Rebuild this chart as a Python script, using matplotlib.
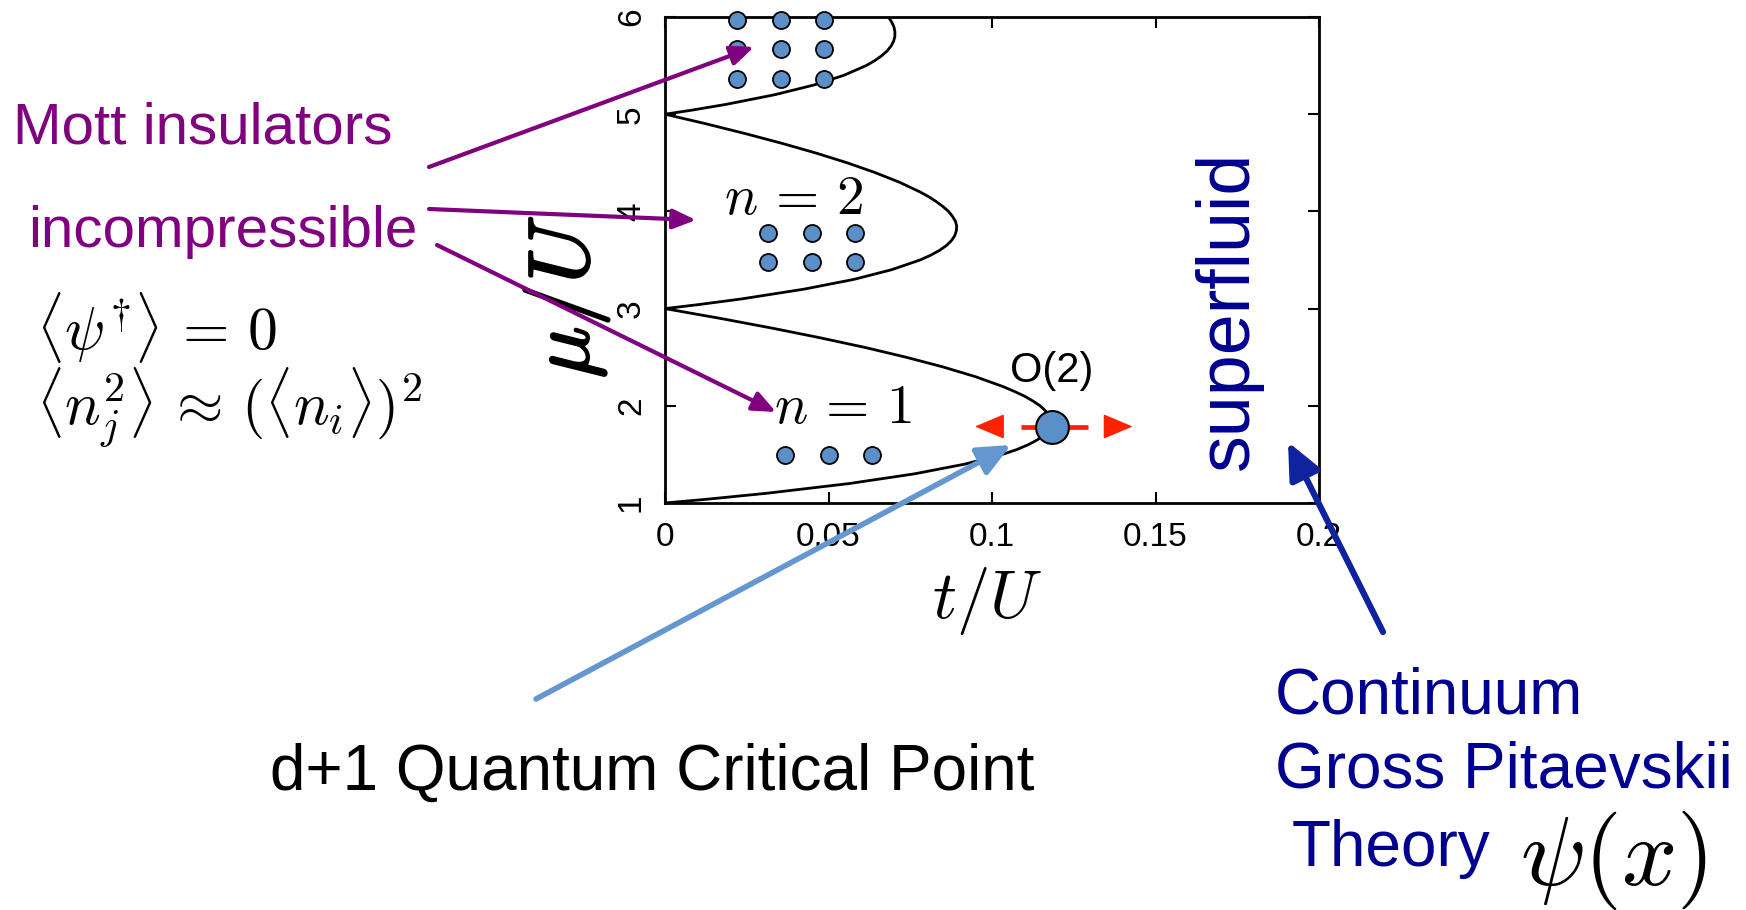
import matplotlib.pyplot as plt
import matplotlib.patheffects as pe
from matplotlib.patches import FancyArrowPatch

plt.rcParams['mathtext.fontset'] = 'cm'
plt.rcParams['font.family'] = ['Liberation Sans', 'DejaVu Sans']

W, H = 1746, 910

# Mott lobe boundaries (t/U against mu/U)
lobe1_mu = [1.0, 1.04, 1.1, 1.2, 1.3, 1.4, 1.5, 1.55, 1.6, 1.65, 1.7, 1.75, 1.8, 1.85, 1.9,
            1.95, 2.0, 2.05, 2.1, 2.15, 2.2, 2.3, 2.4, 2.5, 2.6, 2.7, 2.8, 2.9, 3.0]
lobe1_t = [0, 0.0132, 0.0311, 0.0563, 0.0763, 0.0917, 0.1032, 0.1076, 0.1111, 0.1139, 0.1159,
           0.1173, 0.1180, 0.1180, 0.1174, 0.1163, 0.1147, 0.1125, 0.1099, 0.1067, 0.1032,
           0.0949, 0.0850, 0.0737, 0.0612, 0.0474, 0.0326, 0.0168, 0]

lobe2_mu = [3.0, 3.04, 3.1, 3.2, 3.3, 3.4, 3.5, 3.55, 3.6, 3.65, 3.7, 3.75, 3.8, 3.85, 3.9,
            3.95, 4.0, 4.05, 4.1, 4.15, 4.2, 4.3, 4.4, 4.5, 4.6, 4.7, 4.8, 4.9, 5.0]
lobe2_t = [0, 0.0100, 0.0235, 0.0425, 0.0577, 0.0693, 0.0780, 0.0813, 0.0840, 0.0861, 0.0876,
           0.0886, 0.0891, 0.0892, 0.0888, 0.0879, 0.0867, 0.0850, 0.0830, 0.0807, 0.0780,
           0.0717, 0.0642, 0.0557, 0.0462, 0.0358, 0.0246, 0.0127, 0]

lobe3_mu = [5.0, 5.04, 5.1, 5.2, 5.3, 5.4, 5.5, 5.55, 5.6, 5.65, 5.7, 5.75, 5.8, 5.85, 5.9, 5.95, 6.0]
lobe3_t = [0, 0.0079, 0.0185, 0.0335, 0.0455, 0.0547, 0.0615, 0.0641, 0.0662, 0.0679, 0.0691,
           0.0699, 0.0703, 0.0703, 0.0700, 0.0693, 0.0683]

# particle cartoons inside each lobe
dots1_t = [0.0367, 0.0500, 0.0633]
dots1_mu = [1.49]
dots2_t = [0.0316, 0.0449, 0.0582]
dots2_mu = [3.78, 3.48]
dots3_t = [0.0221, 0.0354, 0.0486]
dots3_mu = [5.97, 5.67, 5.36]

# O(2) critical point at the tip of the n=1 lobe
qcp_t, qcp_mu = 0.1182, 1.787

xticks = [0, 0.05, 0.1, 0.15, 0.2]
xtick_labels = ['0', '0.05', '0.1', '0.15', '0.2']
yticks = [1, 2, 3, 4, 5, 6]

purple = '#800080'
navy = '#000090'
dotblue = '#5b8fc8'
red = '#ff2200'


def fp(x, y):
    # pixel position measured from the top-left corner -> figure fraction
    return x / W, 1 - y / H


def arrow(p0, p1, color, lw, hl, hw):
    fig.add_artist(FancyArrowPatch(fp(*p0), fp(*p1), transform=fig.transFigure,
                                   arrowstyle=f'-|>,head_length={hl},head_width={hw}',
                                   mutation_scale=10, color=color, lw=lw,
                                   shrinkA=0, shrinkB=0, zorder=10))


fig = plt.figure(figsize=(W / 100, H / 100), dpi=100)
ax = fig.add_axes([665 / W, 1 - 503 / H, 654 / W, 486 / H])

for t, mu in [(lobe1_t, lobe1_mu), (lobe2_t, lobe2_mu), (lobe3_t, lobe3_mu)]:
    ax.plot(t, mu, color='black', lw=2, zorder=2)

for ts, mus in [(dots1_t, dots1_mu), (dots2_t, dots2_mu), (dots3_t, dots3_mu)]:
    for m in mus:
        ax.scatter(ts, [m] * len(ts), s=150, color=dotblue, edgecolor='black', lw=1.3,
                   zorder=4, clip_on=False)

# red double arrow through the critical point
ax.plot([qcp_t - 0.0092, qcp_t + 0.0111], [qcp_mu, qcp_mu], color=red, lw=3.4,
        solid_capstyle='butt', zorder=3)
for base, tip in [(qcp_t - 0.0149, qcp_t - 0.0234), (qcp_t + 0.0168, qcp_t + 0.0248)]:
    ax.annotate('', xy=(tip, qcp_mu), xytext=(base, qcp_mu),
                arrowprops=dict(arrowstyle='-|>,head_length=1.9,head_width=0.8',
                                mutation_scale=10, color=red, lw=1, shrinkA=0, shrinkB=0))
ax.scatter([qcp_t], [qcp_mu], s=560, color=dotblue, edgecolor='black', lw=1.5, zorder=5)
ax.text(qcp_t + 0.0001, qcp_mu + 0.37, 'O(2)', fontsize=30, ha='center', va='bottom')

ax.text(0.018, 3.975, r'$n\,=\,2$', fontsize=40, va='baseline')
ax.text(0.0333, 1.824, r'$n\,=\,1$', fontsize=40, va='baseline')

ax.set_xlim(0, 0.2)
ax.set_ylim(1, 6)
ax.set_xticks(xticks)
ax.set_xticklabels(xtick_labels)
ax.set_yticks(yticks)
ax.set_yticklabels([str(v) for v in yticks], rotation=90, va='center')
ax.tick_params(axis='both', direction='in', length=8, width=1.5, top=True, right=True,
               labelsize=24)
ax.tick_params(axis='x', pad=14)
ax.tick_params(axis='y', pad=13)
for sp in ax.spines.values():
    sp.set_linewidth(2)

fig.text(*fp(987, 601), r'$t/U$', fontsize=48, ha='center', va='center')
fig.text(*fp(566, 297), r'$\mu/U$', fontsize=62, ha='center', va='center', rotation=90,
         path_effects=[pe.withStroke(linewidth=1.5, foreground='black')])

# annotations on the left
fig.text(*fp(13, 143), 'Mott insulators', fontsize=42, color=purple, va='baseline')
fig.text(*fp(28, 247), 'incompressible', fontsize=42, color=purple, va='baseline')
fig.text(*fp(36, 349), r'$\langle\psi^{\dagger}\rangle\,=\,0$', fontsize=43, va='baseline')
fig.text(*fp(36, 424), r'$\langle n_j^2\rangle\,\approx\,(\langle n_i\rangle)^2$', fontsize=43,
         va='baseline')

arrow((429, 167), (754, 47), purple, 3, 1.4, 0.6)
arrow((429, 209), (696, 220), purple, 3, 1.4, 0.6)
arrow((437, 245), (776, 412), purple, 3, 1.4, 0.6)

# critical point and continuum theory
fig.text(*fp(270, 790), 'd+1 Quantum Critical Point', fontsize=46, va='baseline')
arrow((536, 699), (1011, 445), '#6496cf', 4, 2.0, 0.9)

fig.text(*fp(1228, 310), 'superfluid', fontsize=53, color=navy, rotation=90,
         ha='center', va='center')
fig.text(*fp(1275, 713), 'Continuum', fontsize=46, color=navy, va='baseline')
fig.text(*fp(1275, 788), 'Gross Pitaevskii', fontsize=46, color=navy, va='baseline')
fig.text(*fp(1292, 866), 'Theory', fontsize=46, color=navy, va='baseline')
fig.text(*fp(1520, 885), r'$\psi(x)$', fontsize=70, va='baseline')
arrow((1383, 632), (1288, 442), '#10239e', 4.5, 2.2, 1.0)

fig.savefig('out.png', dpi=100)
